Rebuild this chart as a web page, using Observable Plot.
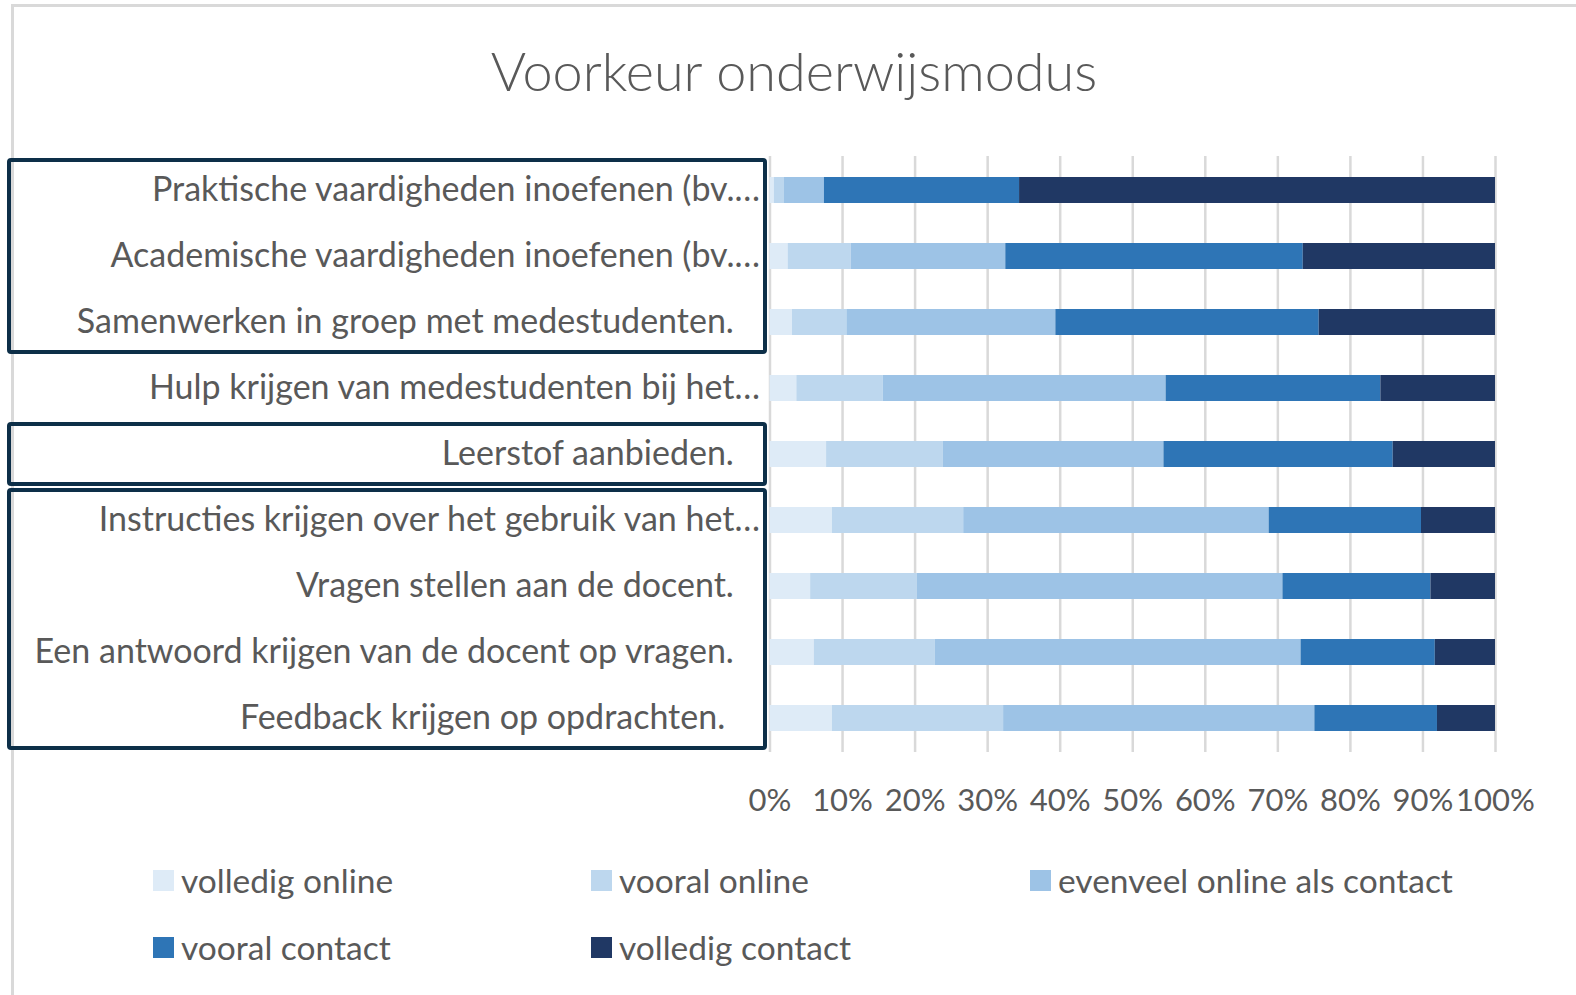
<!DOCTYPE html>
<html>
<head>
<meta charset="utf-8">
<script src="https://cdn.jsdelivr.net/npm/d3@7"></script>
<script src="https://cdn.jsdelivr.net/npm/@observablehq/plot@0.6"></script>
<style>
  html, body { margin: 0; padding: 0; background: #fff; overflow: hidden; width: 1576px; height: 995px; }
  #frame { position: absolute; left: 11px; top: 4px; width: 1620px; height: 1040px; border: 3px solid #d9d9d9; box-sizing: border-box; }
  #page { position: absolute; left: 0; top: 0; width: 1576px; }
  #title { height: 120px; box-sizing: border-box; padding-top: 44px; padding-left: 12px; text-align: center;
           font-family: Lato, sans-serif; font-weight: 300; font-size: 54px; line-height: 1; color: #595959; }
  #chart svg { display: block; }
  #legend { box-sizing: border-box; padding-top: 40px; padding-left: 153px; display: grid;
            grid-template-columns: 438px 439px auto; row-gap: 46px;
            font-family: Lato, sans-serif; font-size: 33.5px; color: #595959; }
  .item { display: flex; align-items: center; height: 21px; line-height: 21px; white-space: nowrap; }
  .sw { width: 21px; height: 21px; margin-right: 7px; flex: none; }
</style>
</head>
<body>
<div id="frame"></div>
<div id="page">
  <div id="title">Voorkeur onderwijsmodus</div>
  <div id="chart"></div>
  <div id="legend"></div>
</div>
<script>
// ---- data ----
const categories = [
  "Praktische vaardigheden inoefenen (bv....",
  "Academische vaardigheden inoefenen (bv....",
  "Samenwerken in groep met medestudenten.",
  "Hulp krijgen van medestudenten bij het...",
  "Leerstof aanbieden.",
  "Instructies krijgen over het gebruik van het...",
  "Vragen stellen aan de docent.",
  "Een antwoord krijgen van de docent op vragen.",
  "Feedback krijgen op opdrachten."
];
const tickLabels = [
  "Praktische vaardigheden inoefenen (bv.…",
  "Academische vaardigheden inoefenen (bv.…",
  "Samenwerken in groep met medestudenten.\u00a0\u00a0\u00a0",
  "Hulp krijgen van medestudenten bij het…",
  "Leerstof aanbieden.\u00a0\u00a0\u00a0",
  "Instructies krijgen over het gebruik van het…",
  "Vragen stellen aan de docent.\u00a0\u00a0\u00a0",
  "Een antwoord krijgen van de docent op vragen.\u00a0\u00a0\u00a0",
  "Feedback krijgen op opdrachten.\u00a0\u00a0\u00a0\u00a0"
];
const modes = ["volledig online", "vooral online", "evenveel online als contact", "vooral contact", "volledig contact"];
const modeColors = ["#deebf7", "#bdd7ee", "#9dc3e6", "#2e75b6", "#203864"];

const volledigOnline  = [0.6, 2.5, 3.1, 3.7, 7.8, 8.6, 5.6, 6.1, 8.6];
const vooralOnline    = [1.4, 8.7, 7.5, 11.9, 16.1, 18.1, 14.7, 16.7, 23.6];
const evenveel        = [5.5, 21.3, 28.8, 39.0, 30.4, 42.1, 50.4, 50.4, 42.9];
const vooralContact   = [26.9, 41.0, 36.3, 29.6, 31.6, 21.0, 20.4, 18.5, 16.9];
const volledigContact = [65.6, 26.5, 24.3, 15.8, 14.1, 10.2, 8.9, 8.3, 8.0];
const xTicks = [0, 10, 20, 30, 40, 50, 60, 70, 80, 90, 100];

// groups of categories outlined with a box
const groups = [
  {from: categories[0], to: categories[2]},
  {from: categories[4], to: categories[4]},
  {from: categories[5], to: categories[8]}
];

// ---- table ----
const seriesValues = [volledigOnline, vooralOnline, evenveel, vooralContact, volledigContact];
const table = [];
categories.forEach((c, i) => {
  modes.forEach((m, j) => table.push({category: c, mode: m, value: seriesValues[j][i]}));
});

const W = 1576, H = 710;
const chart = Plot.plot({
  width: W,
  height: H,
  marginLeft: 769.5,
  marginRight: 81,
  marginTop: 36,
  marginBottom: 78,
  style: {fontFamily: "Lato, sans-serif", fontSize: "31px", color: "#595959", background: "transparent", overflow: "visible"},
  x: {domain: [0, 100]},
  y: {domain: categories, paddingInner: 0.607, paddingOuter: 0.3035},
  color: {domain: modes, range: modeColors},
  marks: [
    Plot.gridX(xTicks, {stroke: "#d9d9d9", strokeOpacity: 1, strokeWidth: 2.5}),
    Plot.barX(table, Plot.stackX({x: "value", y: "category", fill: "mode", order: modes})),
    Plot.axisX({ticks: xTicks, tickSize: 0, tickPadding: 36, tickFormat: d => d + "%", label: null, fontSize: 31}),
    Plot.axisY({tickSize: 0, tickPadding: 10, tickFormat: d => tickLabels[categories.indexOf(d)], label: null, fontSize: 34})
  ]
});
document.getElementById("chart").appendChild(chart);

// group boxes, positioned from the y scale
const ys = chart.scale("y");
const gap = (ys.step - ys.bandwidth) / 2;
const inset = 3;
const svg = d3.select(chart);
svg.append("g").selectAll("rect").data(groups).join("rect")
  .attr("x", 9)
  .attr("width", 756)
  .attr("y", g => ys.apply(g.from) - gap + inset)
  .attr("height", g => (ys.apply(g.to) + ys.bandwidth + gap - inset) - (ys.apply(g.from) - gap + inset))
  .attr("rx", 2)
  .attr("fill", "none")
  .attr("stroke", "#0d2f48")
  .attr("stroke-width", 4);

// legend
const legend = d3.select("#legend");
modes.forEach((m, i) => {
  const it = legend.append("div").attr("class", "item");
  it.append("div").attr("class", "sw").style("background", modeColors[i]);
  it.append("span").text(m);
});
</script>
</body>
</html>
